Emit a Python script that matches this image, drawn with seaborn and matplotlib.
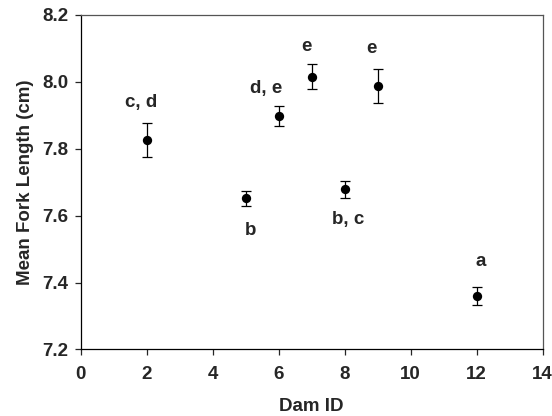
import matplotlib
matplotlib.use("Agg")
import matplotlib.pyplot as plt
import seaborn as sns
import pandas as pd

dam_id = [2, 5, 6, 7, 8, 9, 12]
mean_fl = [7.826, 7.652, 7.898, 8.016, 7.679, 7.987, 7.360]
err = [0.051, 0.023, 0.030, 0.037, 0.026, 0.051, 0.028]
labels = ["c, d", "b", "d, e", "e", "b, c", "e", "a"]
label_x = [1.82, 5.15, 5.62, 6.85, 8.1, 8.81, 12.13]
label_y = [7.937, 7.555, 7.98, 8.105, 7.589, 8.10, 7.462]

sns.set_style("ticks")
plt.rcParams['font.family'] = ['Liberation Sans', 'DejaVu Sans']

df = pd.DataFrame({"Dam ID": dam_id, "Mean": mean_fl, "Err": err})

fig = plt.figure(figsize=(5.52, 4.16), dpi=100)
ax = fig.add_axes([0.146, 0.160, 0.837, 0.804])

ax.errorbar(df["Dam ID"], df["Mean"], yerr=df["Err"], fmt="none",
            ecolor="black", elinewidth=0.9, capsize=3.6, capthick=0.9, zorder=2)
sns.scatterplot(data=df, x="Dam ID", y="Mean", color="black", s=45,
                edgecolor="black", linewidth=0, ax=ax, zorder=3)

for t, lx, ly in zip(labels, label_x, label_y):
    ax.text(lx, ly, t, ha="center", va="center", fontsize=13.5, fontweight="bold")

ax.set_xlim(0, 14)
ax.set_ylim(7.2, 8.2)
ax.set_xticks(range(0, 15, 2))
ax.set_yticks([7.2, 7.4, 7.6, 7.8, 8.0, 8.2])
ax.set_yticklabels(["7.2", "7.4", "7.6", "7.8", "8.0", "8.2"])
ax.tick_params(direction="out", length=4, width=0.9, labelsize=13.5)
ax.tick_params(axis="x", pad=8)
ax.tick_params(axis="y", pad=5)
for lab in ax.get_xticklabels() + ax.get_yticklabels():
    lab.set_fontweight("bold")
ax.set_xlabel("Dam ID", fontsize=13.5, fontweight="bold", labelpad=11)
ax.set_ylabel("Mean Fork Length (cm)", fontsize=13.5, fontweight="bold", labelpad=6)
for s in ax.spines.values():
    s.set_visible(True)
    s.set_color("black")
    s.set_linewidth(0.9)
ax.spines["top"].set_color("#555555")
ax.spines["right"].set_color("#555555")

fig.savefig("out.png", dpi=100)
